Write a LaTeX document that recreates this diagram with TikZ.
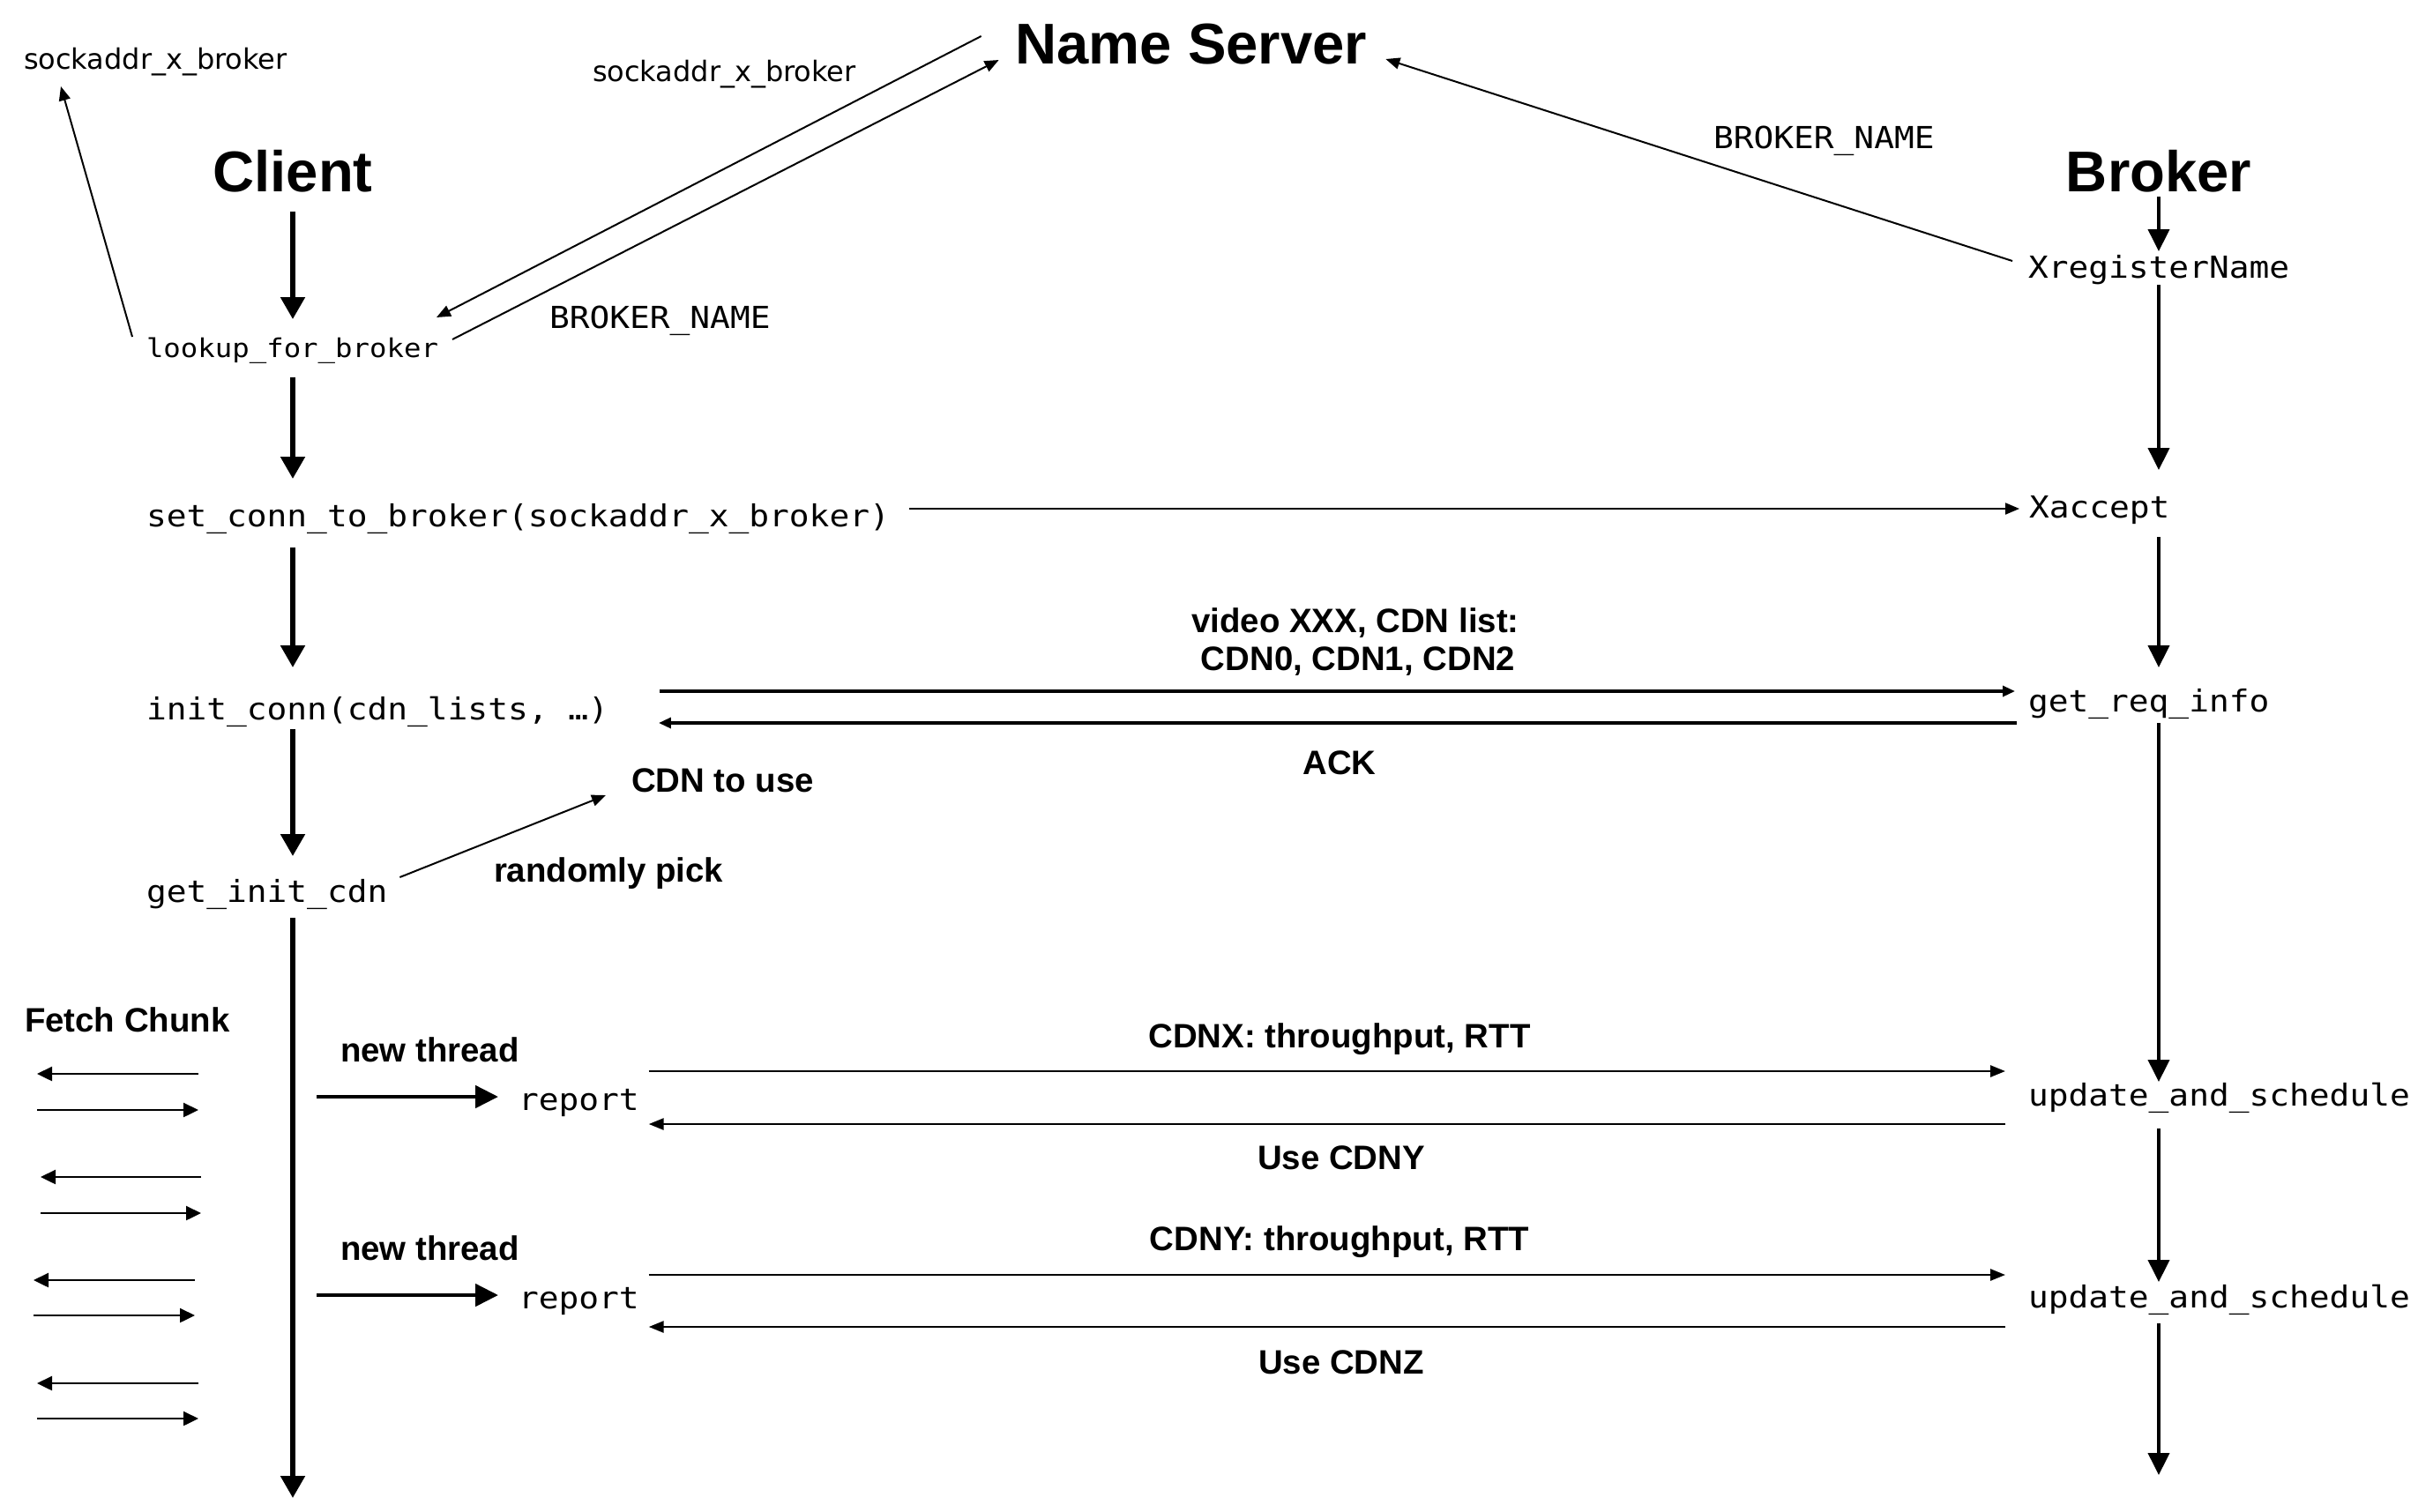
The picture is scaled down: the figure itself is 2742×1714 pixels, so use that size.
\documentclass[tikz,border=0pt]{standalone}
\usepackage{fontspec}
\setmainfont{Liberation Sans}
\newfontfamily\mono{DejaVu Sans Mono}[FakeStretch=1.1]
\newfontfamily\addrfont{DejaVu Sans}
\usetikzlibrary{arrows.meta,calc}
\tikzset{
  every node/.style={inner sep=0pt, outer sep=0pt},
  title/.style={font=\fontsize{32.6}{36}\selectfont\bfseries, anchor=base},
  lbl/.style={font=\fontsize{19.2}{22}\selectfont\bfseries, anchor=base},
  lblw/.style={lbl, anchor=base west},
  code/.style={font=\mono\fontsize{17.2}{20}\selectfont, anchor=base west},
  smallcode/.style={font=\mono\fontsize{14.7}{17}\selectfont, anchor=base west},
  addr/.style={font=\addrfont\fontsize{16}{19}\selectfont, anchor=base west},
  lifeC/.style={line width=2.6pt, -{Triangle[length=12.5pt,width=13.5pt]}},
  lifeB/.style={line width=2pt, -{Triangle[length=12.5pt,width=12pt]}},
  thinA/.style={line width=1pt, -{Triangle[length=8pt,width=6.5pt]}},
  msgA/.style={line width=1.6pt, -{Triangle[length=7pt,width=6pt]}},
  repA/.style={line width=1.3pt, -{Triangle[length=8.5pt,width=6.5pt]}},
  fetchA/.style={line width=1.2pt, -{Triangle[length=8.5pt,width=8pt]}},
  threadA/.style={line width=2.4pt, -{Triangle[length=13pt,width=12.5pt]}},
}
\begin{document}
\begin{tikzpicture}[x=0.5pt,y=-0.5pt]
\fill[white] (0,0) rectangle (2742,1714);
\useasboundingbox (0,0) rectangle (2742,1714);

% titles
\node[title] (ns) at (1351,72) {Name Server};
\node[title] (client) at (332,217) {Client};
\node[title] (broker) at (2448,217) {Broker};

% address / name labels
\node[addr] (sa1) at (27,78) {sockaddr\_x\_broker};
\node[addr] (sa2) at (672,92) {sockaddr\_x\_broker};
\node[code] (bn1) at (623,372) {BROKER\_NAME};
\node[code] (bn2) at (1943,168) {BROKER\_NAME};

% client side
\node[smallcode] (lookup) at (166,405) {lookup\_for\_broker};
\node[code] (setconn) at (166,597) {set\_conn\_to\_broker(sockaddr\_x\_broker)};
\node[code] (init) at (166,816) {init\_conn(cdn\_lists, …)};
\node[code] (getinit) at (166,1023) {get\_init\_cdn};
\node[code] (rep1) at (588,1259) {report};
\node[code] (rep2) at (588,1484) {report};

% broker side
\node[code] (xreg) at (2300,315) {XregisterName};
\node[code] (xaccept) at (2301,587) {Xaccept};
\node[code] (getreq) at (2300,807) {get\_req\_info};
\node[code] (upd1) at (2300,1254) {update\_and\_schedule};
\node[code] (upd2) at (2300,1483) {update\_and\_schedule};

% bold labels
\node[lbl] (vid1) at (1537,717) {video XXX, CDN list:};
\node[lbl] (vid2) at (1540,760) {CDN0, CDN1, CDN2};
\node[lbl] (ack) at (1519,878) {ACK};
\node[lblw] (cdnuse) at (716,898) {CDN to use};
\node[lblw] (randpick) at (560,1000) {randomly pick};
\node[lblw] (fetch) at (28,1170) {Fetch Chunk};
\node[lblw] (nt1) at (386,1204) {new thread};
\node[lblw] (nt2) at (386,1429) {new thread};
\node[lbl] (cdnx) at (1519,1188) {CDNX: throughput, RTT};
\node[lbl] (usey) at (1521,1326) {Use CDNY};
\node[lbl] (cdny) at (1519,1418) {CDNY: throughput, RTT};
\node[lbl] (usez) at (1521,1558) {Use CDNZ};

% client lifeline
\draw[lifeC] (client |- 0,240) -- (client |- 0,362);
\draw[lifeC] (client |- 0,428) -- (client |- 0,543);
\draw[lifeC] (client |- 0,621) -- (client |- 0,757);
\draw[lifeC] (client |- 0,827) -- (client |- 0,971);
\draw[lifeC] (client |- 0,1041) -- (client |- 0,1699);

% broker lifeline
\draw[lifeB] (broker |- 0,223) -- (broker |- 0,285);
\draw[lifeB] (broker |- 0,323) -- (broker |- 0,533);
\draw[lifeB] (broker |- 0,609) -- (broker |- 0,757);
\draw[lifeB] (broker |- 0,820) -- (broker |- 0,1227);
\draw[lifeB] (broker |- 0,1280) -- (broker |- 0,1454);
\draw[lifeB] (broker |- 0,1501) -- (broker |- 0,1673);

% name server exchanges
\draw[thinA] ($(lookup.base west)+(-16,-23)$) -- ($(sa1.base west)+(42,20)$);
\draw[thinA] ($(ns.base west)+(-39,-31)$) -- ($(lookup.base east)+(-2,-45)$);
\draw[thinA] ($(lookup.base east)+(16,-20)$) -- ($(ns.base west)+(-19,-4)$);
\draw[thinA] ($(xreg.base west)+(-18,-19)$) -- ($(ns.base east)+(21,-5)$);

% connection setup
\draw[thinA, shorten <=11pt, shorten >=5.5pt] (setconn.east |- 0,577) -- (xaccept.west |- 0,577);
\draw[msgA, shorten <=29pt, shorten >=7.5pt] (init.east |- 0,784) -- (getreq.west |- 0,784);
\draw[msgA, shorten <=6.5pt, shorten >=28.5pt] (getreq.west |- 0,820) -- (init.east |- 0,820);

% random pick
\draw[thinA] ($(getinit.base east)+(14,-28)$) -- ($(cdnuse.base west)+(-29,4)$);

% reports
\draw[threadA, shorten <=13.5pt, shorten >=11.5pt] (client |- 0,1244) -- (rep1.west |- 0,1244);
\draw[threadA, shorten <=13.5pt, shorten >=11.5pt] (client |- 0,1469) -- (rep2.west |- 0,1469);
\draw[repA, shorten <=5.5pt, shorten >=13pt] (rep1.east |- 0,1215) -- (upd1.west |- 0,1215);
\draw[repA, shorten <=13pt, shorten >=5.5pt] (upd1.west |- 0,1275) -- (rep1.east |- 0,1275);
\draw[repA, shorten <=5.5pt, shorten >=13pt] (rep2.east |- 0,1446) -- (upd2.west |- 0,1446);
\draw[repA, shorten <=13pt, shorten >=5.5pt] (upd2.west |- 0,1505) -- (rep2.east |- 0,1505);

% fetch chunk arrows
\draw[fetchA] (225,1218) -- (42,1218);
\draw[fetchA] (42,1259) -- (225,1259);
\draw[fetchA] (228,1335) -- (46,1335);
\draw[fetchA] (46,1376) -- (228,1376);
\draw[fetchA] (221,1452) -- (38,1452);
\draw[fetchA] (38,1492) -- (221,1492);
\draw[fetchA] (225,1569) -- (42,1569);
\draw[fetchA] (42,1609) -- (225,1609);
\end{tikzpicture}
\end{document}
